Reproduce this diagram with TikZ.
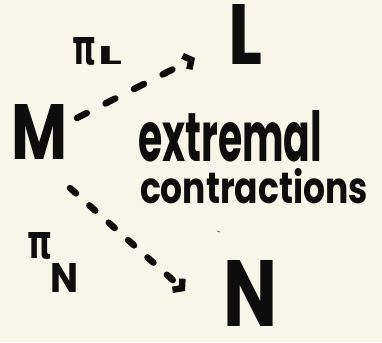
\documentclass[tikz,border=0pt]{standalone}
\usepackage{fontspec}
\setmainfont{Poppins}
\newfontfamily\grk{DejaVu Sans}
\usetikzlibrary{arrows.meta}
\definecolor{bg}{HTML}{F8F5E9}
\definecolor{ink}{HTML}{0D0D0D}
\begin{document}
\begin{tikzpicture}[x=1pt,y=-1pt,
  lbl/.style={inner sep=0pt, outer sep=0pt, text=ink, font=\bfseries},
  glbl/.style={inner sep=0pt, outer sep=0pt, text=ink, font=\grk\bfseries},
  dasharrow/.style={draw=ink, line width=6.5pt, line cap=round,
    -{Straight Barb[length=6pt,width=15pt]}}]
\fill[bg] (0,0) rectangle (382,342);
\useasboundingbox (0,0) rectangle (382,342);
% main objects
\node[lbl] (M) at (40,132) {\resizebox{56pt}{55pt}{M}};
\node[lbl] (L) at (245,34) {\resizebox{34pt}{60pt}{L}};
\node[lbl] (N) at (250,293) {\resizebox{54pt}{66pt}{N}};
% maps labels
\node[glbl] (piL) at (84,51) {\resizebox{24pt}{27pt}{π}};
\node[lbl] (subL) at (110,56) {\resizebox{24pt}{18pt}{L}};
\node[glbl] (piN) at (40,246) {\resizebox{25pt}{26pt}{π}};
\node[lbl] (subN) at (65,278) {\resizebox{28pt}{29pt}{N}};
% text
\node[lbl, anchor=south west] (t1) at (138,162) {\resizebox{184pt}{51pt}{extremal}};
\node[lbl, anchor=south west] (t2) at (140,204) {\resizebox{228pt}{35pt}{contractions}};
% arrows
\draw[dasharrow, dash pattern=on 11pt off 21pt]
  ([shift={(37,-14)}]M.center) -- ([shift={(-50,24)}]L.center);
\draw[dasharrow, dash pattern=on 8pt off 18pt]
  ([shift={(30,56)}]M.center) -- ([shift={(-65,-2)}]N.center);
% stray mark
\draw[ink!60, line width=0.8pt] (217,231) -- (220,232);
\end{tikzpicture}
\end{document}
